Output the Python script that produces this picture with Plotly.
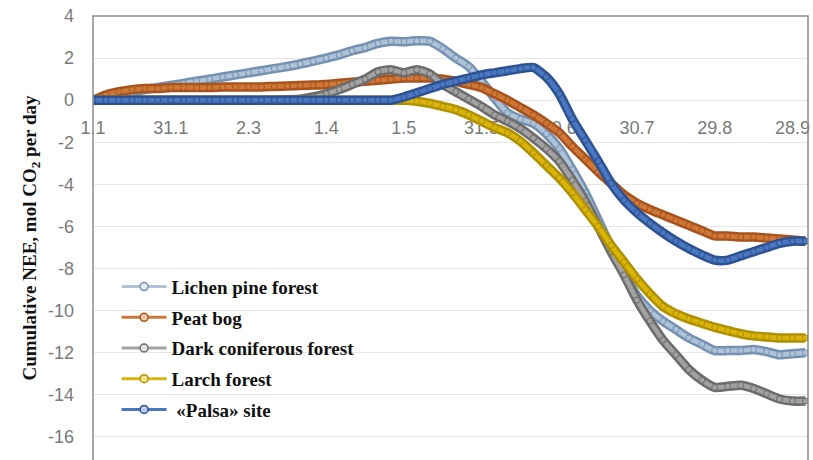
import plotly.graph_objects as go

# Day of year for each observation (1 Jan ... early October, 5-day step)
days = list(range(1, 277, 5))

# Cumulative NEE, mol CO2 per day
lichen_pine = [
    0, 0.12, 0.25, 0.37, 0.5, 0.6, 0.7, 0.8, 0.9, 1.0,
    1.1, 1.2, 1.3, 1.4, 1.5, 1.6, 1.72, 1.85, 2.0, 2.15,
    2.35, 2.5, 2.7, 2.8, 2.78, 2.82, 2.8, 2.45, 2.0, 1.6,
    0.9, 0.1, -0.6, -0.9, -1.1, -1.6, -2.3, -3.3, -4.4, -5.7,
    -7.0, -8.2, -9.3, -10.0, -10.5, -10.9, -11.3, -11.6, -11.9, -11.9,
    -11.9, -11.85, -11.95, -12.1, -12.05, -12.0,
]
peat_bog = [
    0, 0.25, 0.4, 0.5, 0.55, 0.55, 0.6, 0.6, 0.6, 0.6,
    0.62, 0.63, 0.63, 0.63, 0.65, 0.67, 0.7, 0.72, 0.75, 0.8,
    0.85, 0.9, 0.95, 1.0, 1.05, 1.05, 1.05, 1.0, 0.9, 0.75,
    0.6, 0.3, 0.0, -0.35, -0.7, -1.1, -1.55, -2.2, -2.8, -3.4,
    -3.95, -4.5, -4.9, -5.2, -5.45, -5.7, -5.95, -6.2, -6.45, -6.45,
    -6.5, -6.5, -6.55, -6.6, -6.65, -6.7,
]
dark_coniferous = [
    0, 0, 0, 0, 0, 0, 0, 0, 0, 0,
    0, 0, 0, 0, 0, 0.02, 0.05, 0.15, 0.3, 0.5,
    0.75, 1.0, 1.35, 1.45, 1.3, 1.45, 1.25, 0.75, 0.4, 0.05,
    -0.3, -0.7, -1.0, -1.35, -1.8, -2.3, -2.9, -3.8, -4.8, -6.0,
    -7.2, -8.3, -9.5, -10.5, -11.4, -12.1, -12.8, -13.3, -13.65, -13.6,
    -13.55, -13.7, -13.95, -14.2, -14.3, -14.3,
]
larch = [
    0, 0, 0, 0, 0, 0, 0, 0, 0, 0,
    0, 0, 0, 0, 0, 0, 0, 0, 0, 0,
    0, 0, 0, 0, 0.0, -0.05, -0.15, -0.3, -0.45, -0.7,
    -1.0, -1.3, -1.55, -1.95, -2.5, -3.1, -3.7, -4.4, -5.2, -6.0,
    -6.9, -7.7, -8.5, -9.2, -9.8, -10.15, -10.4, -10.6, -10.8, -10.95,
    -11.1, -11.2, -11.25, -11.3, -11.3, -11.3,
]
palsa = [
    0, 0, 0, 0, 0, 0, 0, 0, 0, 0,
    0, 0, 0, 0, 0, 0, 0, 0, 0, 0,
    0, 0, 0, 0, 0.15, 0.35, 0.55, 0.75, 0.9, 1.05,
    1.2, 1.3, 1.4, 1.5, 1.55, 1.1, 0.3, -0.9, -1.9, -2.9,
    -3.95, -4.75, -5.35, -5.85, -6.3, -6.7, -7.05, -7.35, -7.6, -7.6,
    -7.4, -7.2, -7.0, -6.8, -6.7, -6.7,
]

series_names = ["Lichen pine forest", "Peat bog", "Dark coniferous forest",
                "Larch forest", " \u00abPalsa\u00bb site"]
series_values = [lichen_pine, peat_bog, dark_coniferous, larch, palsa]

# x-axis tick positions (day of year) and their date labels
tick_days = [1, 31, 61, 91, 121, 151, 181, 211, 241, 271]
tick_labels = ["1.1", "31.1", "2.3", "1.4", "1.5", "31.5", "30.6", "30.7", "29.8", "28.9"]

y_ticks = [-16, -14, -12, -10, -8, -6, -4, -2, 0, 2, 4]
y_tick_labels = ["-16", "-14", "-12", "-10", "-8", "-6", "-4", "-2", "0", "2", "4"]

# (outline, fill, legend marker fill)
styles = [
    ("#7591b2", "#aec2d8", "#e4ebf3"),
    ("#a8531d", "#cf7736", "#f0c9a8"),
    ("#6c6c6c", "#a2a2a2", "#e2e2e2"),
    ("#b09000", "#d9b50c", "#f2e39a"),
    ("#2c5293", "#4a77c0", "#b9cbe8"),
]

fig = go.Figure()

for name, vals, (dark, light, pale) in zip(series_names, series_values, styles):
    fig.add_trace(go.Scatter(
        x=days, y=vals, mode="lines", showlegend=False, hoverinfo="skip",
        line=dict(color=dark, width=9.5, shape="spline", smoothing=0.6),
    ))
    fig.add_trace(go.Scatter(
        x=days, y=vals, mode="lines+markers", showlegend=False, name=name,
        line=dict(color=light, width=4.5, shape="spline", smoothing=0.6),
        marker=dict(symbol="circle", size=6, color=light,
                    line=dict(color=dark, width=1)),
    ))

for i, (name, (dark, light, pale)) in enumerate(zip(series_names, styles)):
    fig.add_trace(go.Scatter(
        x=[None], y=[None], mode="lines+markers", name=name,
        legendgroup=f"g{i}",
        line=dict(color=light, width=3),
        marker=dict(symbol="circle", size=8, color=pale,
                    line=dict(color=dark, width=1.5)),
    ))

y_min, y_max = -17.1, 4
zero_frac = (0 - y_min) / (y_max - y_min)

fig.update_layout(
    width=813, height=460,
    margin=dict(l=93, r=5, t=16, b=0),
    paper_bgcolor="white", plot_bgcolor="white",
    showlegend=True,
    legend=dict(
        x=0.033, y=0.433, xanchor="left", yanchor="top",
        bgcolor="rgba(0,0,0,0)", borderwidth=0,
        font=dict(family="Liberation Serif", size=19, color="#111111", weight="bold"),
        itemwidth=45, tracegroupgap=3, traceorder="grouped",
    ),
    xaxis=dict(
        range=[1, 277], anchor="free", position=zero_frac,
        tickmode="array", tickvals=tick_days, ticktext=tick_labels,
        showgrid=False, zeroline=False, showline=False, ticks="",
        ticklabelstandoff=15, layer="below traces",
        tickfont=dict(family="Liberation Sans", size=18, color="#7a7a7a"),
    ),
    yaxis=dict(
        range=[y_min, y_max], tickmode="array", tickvals=y_ticks,
        ticktext=y_tick_labels,
        showgrid=True, gridcolor="#e6e6e6", gridwidth=1,
        zeroline=False, showline=False, ticks="", ticklabelstandoff=18,
        tickfont=dict(family="Liberation Sans", size=18, color="#7a7a7a"),
        title=dict(
            text="Cumulative NEE, mol CO<sub>2</sub> per day",
            font=dict(family="Liberation Serif", size=19, color="#111111", weight="bold"),
            standoff=6,
        ),
    ),
    shapes=[dict(
        type="rect", xref="paper", yref="paper", x0=0, x1=1, y0=-0.02, y1=1,
        line=dict(color="#8a8a8a", width=1.5), fillcolor="rgba(0,0,0,0)", layer="above",
    )],
)

fig.write_html("out.html")
